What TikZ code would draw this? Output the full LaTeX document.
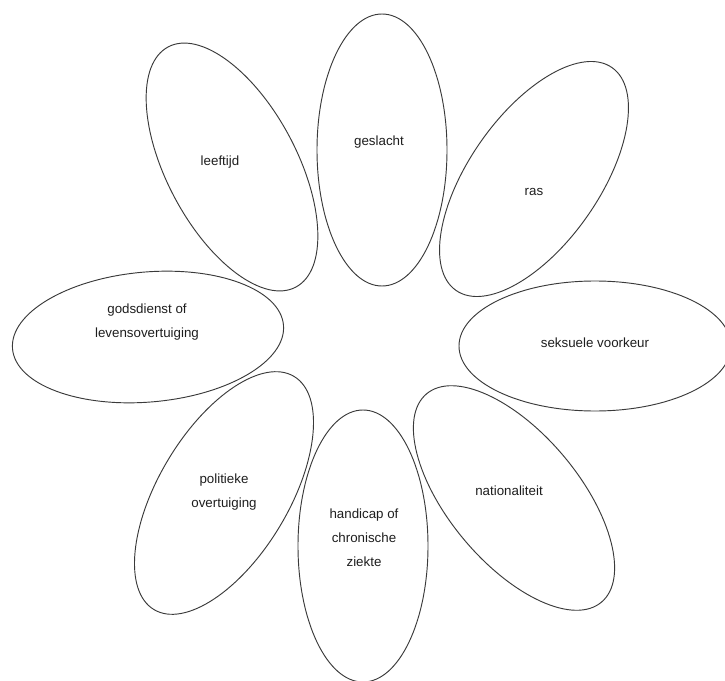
\documentclass[tikz,border=0pt]{standalone}
\usepackage{fontspec}
\setmainfont{Liberation Sans}
\usepackage{tikz}
\usetikzlibrary{shapes.geometric}
\definecolor{ink}{HTML}{3A3A3A}
\definecolor{txt}{HTML}{1E1E1E}
\tikzset{
  petal/.style={draw=ink, line width=0.7pt, ellipse, inner sep=0pt,
    minimum width=97.5pt, minimum height=204pt},
  lbl/.style={text=txt, font=\fontsize{10}{18}\selectfont, align=center}
}

\begin{document}
\begin{tikzpicture}[x=0.75pt, y=-0.75pt]
  \useasboundingbox[fill=white] (0,0) rectangle (725,681);

  % petals
  \node[petal] (geslacht) at (382,150) {};
  \node[petal, rotate=28] (leeftijd) at (232,167) {};
  \node[petal, rotate=-35] (ras) at (534,179) {};
  \node[petal, rotate=95] (godsdienst) at (148,337) {};
  \node[petal, rotate=90] (seksueel) at (595,346) {};
  \node[petal, rotate=-31] (politiek) at (224,493) {};
  \node[petal] (handicap) at (363,546) {};
  \node[petal, rotate=40] (nationaal) at (514,498) {};

  % labels
  \node[lbl] (tgeslacht) at (379,142) {geslacht};
  \node[lbl] (tleeftijd) at (220,162) {leeftijd};
  \node[lbl] (tras) at (534,192) {ras};
  \node[lbl] (tgodsdienst) at (147,322) {godsdienst of\\levensovertuiging};
  \node[lbl] (tseksueel) at (595,343) {seksuele voorkeur};
  \node[lbl] (tpolitiek) at (224,492) {politieke\\overtuiging};
  \node[lbl] (thandicap) at (364,538) {handicap of\\chronische\\ziekte};
  \node[lbl] (tnationaal) at (509,491) {nationaliteit};
\end{tikzpicture}
\end{document}
